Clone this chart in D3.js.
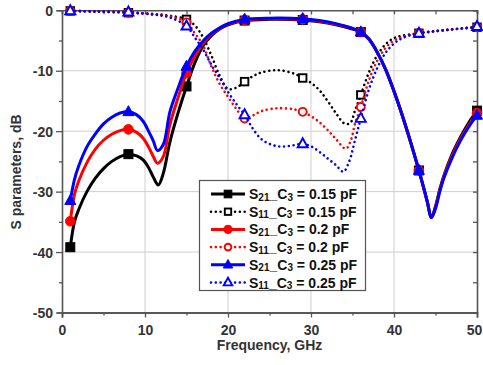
<!DOCTYPE html>
<html>
<head>
<meta charset="utf-8">
<script src="https://cdn.jsdelivr.net/npm/d3@7"></script>
<style>
  html, body { margin: 0; padding: 0; background: #fff; }
  svg { display: block; font-family: "Liberation Sans", Arial, sans-serif; font-weight: bold; }
</style>
</head>
<body>
<svg id="chart" width="483" height="365"></svg>
<script>
// Frequency sweep readings, GHz vs dB
const s21_015 = [[1,-39.2],[1.5,-35],[2,-33],[3,-30],[4,-27.8],[5,-26.2],[6,-25],[7,-24.2],[8,-23.8],[9,-24.1],[9.8,-24.8],[10.5,-26.2],[11,-27.6],[11.6,-28.9],[12.2,-27],[13,-21.8],[14,-16.9],[15,-12.6],[16,-8.7],[17,-5.9],[18,-4.2],[19,-3.1],[20,-2.4],[22,-1.7],[25,-1.5],[29,-1.6],[31,-1.9],[33,-2.4],[35,-3.1],[36,-3.6],[37,-4.8],[38,-7],[39,-9.8],[40,-13.4],[41,-17.4],[42,-21.8],[43,-26.5],[44,-31.6],[44.5,-34.3],[45,-32.4],[45.5,-29.7],[46,-27.4],[47,-23.8],[48,-21],[49,-18.6],[50,-16.6]];
const s11_015 = [[1,-0.1],[4,-0.2],[8,-0.4],[11,-0.6],[13,-0.9],[15,-1.5],[16,-2.5],[17,-4.5],[18,-7.5],[19,-10.8],[20,-13],[21,-12.8],[22,-11.8],[23,-10.9],[24,-10.3],[26,-9.9],[28,-10.5],[29,-11.2],[30,-12],[31,-13.2],[32,-15],[33,-17],[34,-18.7],[34.7,-18.7],[35.3,-16.6],[36,-14],[37,-10.2],[38,-7.4],[39,-5.6],[40,-4.6],[41,-4.2],[43,-3.8],[46,-3.3],[50,-2.8]];
const s21_02 = [[1,-34.9],[1.5,-30.5],[2,-28.3],[3,-25.2],[4,-23],[5,-21.5],[6,-20.5],[7,-19.9],[8,-19.7],[9,-20.2],[9.8,-21.2],[10.5,-22.8],[11,-24.2],[11.5,-25.3],[12.2,-24.2],[13,-18.9],[14,-14.4],[15,-10.4],[16,-7.6],[17,-5.5],[18,-4],[19,-3],[20,-2.3],[22,-1.6],[25,-1.4],[29,-1.5],[31,-1.8],[33,-2.3],[35,-3],[36,-3.6],[37,-4.8],[38,-7],[39,-9.8],[40,-13.4],[41,-17.4],[42,-21.8],[43,-26.5],[44,-31.6],[44.5,-34.3],[45,-32.6],[45.5,-29.9],[46,-27.6],[47,-24.1],[48,-21.3],[49,-19],[50,-17]];
const s11_02 = [[1,-0.1],[4,-0.2],[8,-0.4],[11,-0.7],[13,-1],[15,-2],[16,-3.8],[17,-5.8],[18,-9.3],[19,-12.2],[20,-14.3],[21,-16.3],[22,-17.9],[23,-17.4],[24,-16.7],[26,-16.2],[28,-16.4],[29,-16.8],[30,-17.5],[31,-18.5],[32,-19.8],[33,-21.3],[34.2,-22.9],[34.8,-21.5],[35.3,-18.8],[36,-16],[37,-11.5],[38,-8.3],[39,-6.2],[40,-5],[41,-4.4],[43,-3.8],[46,-3.3],[50,-2.8]];
const s21_025 = [[1,-31.5],[1.5,-28],[2,-25.8],[3,-22.6],[4,-20.5],[5,-18.8],[6,-17.7],[7,-17],[8,-16.8],[9,-17.3],[9.8,-18.4],[10.5,-20.2],[11,-21.6],[11.5,-23.2],[12.2,-22.2],[13,-16.8],[14,-12.8],[15,-9.3],[16,-6.8],[17,-5.1],[18,-3.8],[19,-2.9],[20,-2.2],[22,-1.5],[25,-1.3],[29,-1.4],[31,-1.7],[33,-2.2],[35,-3],[36,-3.6],[37,-4.8],[38,-7],[39,-9.8],[40,-13.4],[41,-17.4],[42,-21.8],[43,-26.5],[44,-31.6],[44.5,-34.3],[45,-32.8],[45.5,-30.1],[46,-27.8],[47,-24.4],[48,-21.6],[49,-19.3],[50,-17.4]];
const s11_025 = [[1,-0.1],[4,-0.2],[8,-0.3],[11,-0.7],[13,-1.2],[15,-2.6],[16,-4.5],[17,-6.5],[18,-9],[19,-11.2],[20,-13.5],[21,-15.5],[22,-17.3],[23,-19.6],[24,-21.3],[25,-22.1],[26,-22.5],[27,-22.5],[28,-22.3],[29,-22.1],[30,-22.5],[31,-23.4],[32,-24.5],[33,-25.6],[33.9,-26.7],[34.6,-25],[35.3,-21.5],[36,-17.9],[37,-13],[38,-9.5],[39,-7],[40,-5.5],[41,-4.6],[43,-3.8],[46,-3.3],[50,-2.7]];

const markerFreqs = [1, 8, 15, 22, 29, 36, 43, 50];
const xTicks = [0, 10, 20, 30, 40, 50];
const yTicks = [0, -10, -20, -30, -40, -50];
const legendLabels = [
  ["21", "0.15"], ["11", "0.15"],
  ["21", "0.2"],  ["11", "0.2"],
  ["21", "0.25"], ["11", "0.25"]
];

const series = [
  { data: s21_015, color: "#000000", dotted: false, shape: "square",   filled: true },
  { data: s11_015, color: "#000000", dotted: true,  shape: "square",   filled: false },
  { data: s21_02,  color: "#ff0000", dotted: false, shape: "circle",   filled: true },
  { data: s11_02,  color: "#ff0000", dotted: true,  shape: "circle",   filled: false },
  { data: s21_025, color: "#0000ff", dotted: false, shape: "triangle", filled: true },
  { data: s11_025, color: "#0000ff", dotted: true,  shape: "triangle", filled: false }
];

const svg = d3.select("#chart");
const plotLeft = 62, plotRight = 477, plotTop = 10.3, plotBottom = 312.5;
const x = d3.scaleLinear().domain([0, 50]).range([plotLeft, plotRight]);
const y = d3.scaleLinear().domain([-50, 0]).range([plotBottom, plotTop]);

// grid
const grid = svg.append("g").attr("stroke", "#cfcfcf").attr("stroke-width", 1);
grid.selectAll("line.gx").data(xTicks.filter(d => d > 0 && d < 50)).join("line").attr("class", "gx")
  .attr("x1", d => x(d)).attr("x2", d => x(d)).attr("y1", plotTop).attr("y2", plotBottom);
grid.selectAll("line.gy").data(yTicks.filter(d => d < 0 && d > -50)).join("line").attr("class", "gy")
  .attr("y1", d => y(d)).attr("y2", d => y(d)).attr("x1", plotLeft).attr("x2", plotRight);

// axes
const minorX = d3.range(0, 51, 5);
const minorY = d3.range(-50, 1, 5);
const axisColor = "#555";

const gBottom = svg.append("g").attr("transform", `translate(0,${plotBottom})`)
  .call(d3.axisBottom(x).tickValues(minorX).tickSize(5).tickFormat(d => xTicks.includes(d) ? d : ""));
const gLeft = svg.append("g").attr("transform", `translate(${plotLeft},0)`)
  .call(d3.axisLeft(y).tickValues(minorY).tickSize(5).tickFormat(d => yTicks.includes(d) ? d : ""));
const gTop = svg.append("g").attr("transform", `translate(0,${plotTop})`)
  .call(d3.axisTop(x).tickValues(minorX).tickSize(-4).tickFormat(""));
const gRight = svg.append("g").attr("transform", `translate(${plotRight},0)`)
  .call(d3.axisRight(y).tickValues(minorY).tickSize(-4).tickFormat(""));

[gBottom, gLeft, gTop, gRight].forEach(g => {
  g.select(".domain").attr("stroke", axisColor).attr("stroke-width", 1.6);
  g.selectAll(".tick line").attr("stroke", axisColor).attr("stroke-width", 1.3);
});
gBottom.select(".domain").attr("stroke", "#222");
gBottom.selectAll(".tick line").attr("y2", d => xTicks.includes(d) ? 5 : 3);
gLeft.selectAll(".tick line").attr("x2", d => yTicks.includes(d) ? -6 : -3);
gBottom.selectAll(".tick text").attr("font-size", 14).attr("font-weight", "bold")
  .attr("fill", "#333").attr("dy", "0").attr("y", 22)
  .attr("dx", d => d === 50 ? -3 : 0);
gLeft.selectAll(".tick text").attr("font-size", 14).attr("font-weight", "bold")
  .attr("fill", "#333").attr("x", -9).attr("dy", "0.36em");

// axis titles
svg.append("text").attr("x", (plotLeft + plotRight) / 2).attr("y", 350).attr("text-anchor", "middle")
  .attr("font-size", 14).attr("fill", "#333").text("Frequency, GHz");
svg.append("text").attr("transform", "translate(21,172) rotate(-90)").attr("text-anchor", "middle")
  .attr("font-size", 14).attr("fill", "#333").text("S parameters, dB");

// curves
const line = d3.line().x(d => x(d[0])).y(d => y(d[1])).curve(d3.curveCatmullRom.alpha(0.5));

function drawMarker(g, shape, filled, color, cx, cy, small) {
  const k = small ? 0.85 : 1;
  let m;
  if (shape === "square") {
    const s = (filled ? 9 : 7.5) * k;
    m = g.append("rect").attr("x", cx - s / 2).attr("y", cy - s / 2).attr("width", s).attr("height", s);
  } else if (shape === "circle") {
    m = g.append("circle").attr("cx", cx).attr("cy", cy).attr("r", (filled ? 4.8 : 4) * k);
  } else {
    const w = (filled ? 11 : 10) * k, h = (filled ? 10 : 9) * k;
    m = g.append("path").attr("d", `M${cx},${cy - h * 0.62}L${cx + w / 2},${cy + h * 0.38}L${cx - w / 2},${cy + h * 0.38}Z`);
  }
  if (filled) m.attr("fill", color).attr("stroke", color).attr("stroke-width", 1);
  else m.attr("fill", "#fff").attr("stroke", color).attr("stroke-width", 1.9);
}

const plot = svg.append("g");
series.forEach(s => {
  const p = plot.append("path").datum(s.data).attr("d", line).attr("fill", "none")
    .attr("stroke", s.color).attr("stroke-linejoin", "round");
  if (s.dotted) p.attr("stroke-width", 2.6).attr("stroke-dasharray", "0.01,4.8").attr("stroke-linecap", "round");
  else p.attr("stroke-width", 3);
  s.data.filter(d => markerFreqs.includes(d[0])).forEach(d =>
    drawMarker(plot, s.shape, s.filled, s.color, x(d[0]), y(d[1]), false));
});

// legend
const lg = svg.append("g");
lg.append("rect").attr("x", 199.5).attr("y", 180.5).attr("width", 166).attr("height", 110)
  .attr("fill", "#fff").attr("stroke", "#555").attr("stroke-width", 1.2);
series.forEach((s, i) => {
  const cy = 194 + i * 17.7;
  const l = lg.append("line").attr("x1", 211).attr("x2", 245).attr("y1", cy).attr("y2", cy).attr("stroke", s.color);
  if (s.dotted) l.attr("stroke-width", 2.6).attr("stroke-dasharray", "0.01,4.8").attr("stroke-linecap", "round");
  else l.attr("stroke-width", 3);
  drawMarker(lg, s.shape, s.filled, s.color, 228, cy, true);
  const t = lg.append("text").attr("x", 249).attr("y", cy + 5).attr("font-size", 14).attr("fill", "#111");
  const [sub, val] = legendLabels[i];
  t.append("tspan").text("S");
  t.append("tspan").attr("font-size", 10).attr("dy", 1.5).text(sub);
  t.append("tspan").attr("dy", -1.5).text("_C");
  t.append("tspan").attr("font-size", 10).attr("dy", 1.5).text("3");
  t.append("tspan").attr("dy", -1.5).text(" = " + val + " pF");
});
</script>
</body>
</html>
